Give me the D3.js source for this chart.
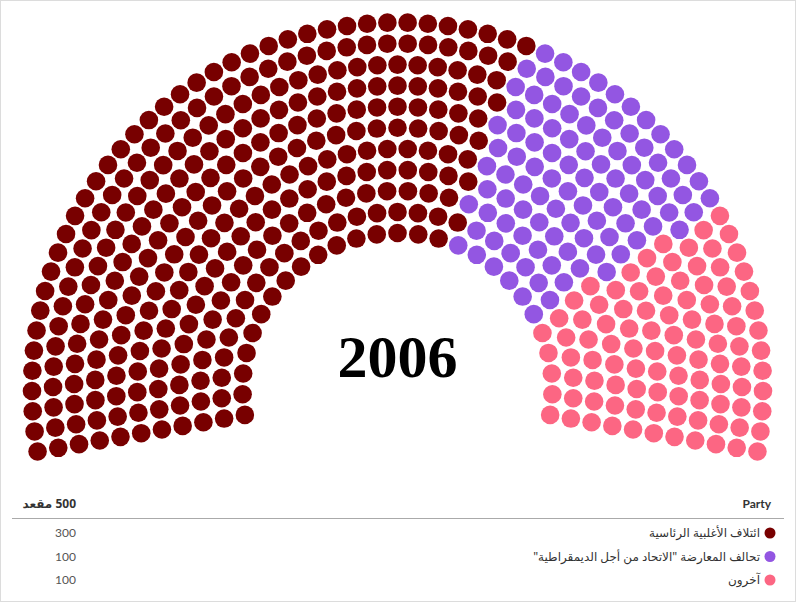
<!DOCTYPE html>
<html>
<head>
<meta charset="utf-8">
<script src="https://cdn.jsdelivr.net/npm/d3@7"></script>
<style>
  html, body { margin: 0; padding: 0; background: #ffffff; }
  svg { display: block; }
</style>
</head>
<body>
<svg id="chart" width="796" height="602"></svg>
<script>
// ---- data ----
const parties = [
  "ائتلاف الأغلبية الرئاسية",
  "تحالف المعارضة \"الاتحاد من أجل الديمقراطية\"",
  "آخرون"
];
const seatCounts = [300, 100, 100];
const partyColors = ["#780000", "#9356e2", "#fc6683"];
const centerLabel = "2006";
const headerLeft = "500 مقعد";
const headerRight = "Party";

// ---- layout ----
const W = 796, H = 602;
const cx = 397.5, cy = 388;
const nRows = 11;
const innerR = 155, outerR = 365.5;
const startAngle = 190, endAngle = -10; // degrees
const dotR = 9.3;

const svg = d3.select("#chart");

svg.append("rect")
  .attr("x", 0.5).attr("y", 0.5)
  .attr("width", W - 1).attr("height", H - 1)
  .attr("fill", "#fff").attr("stroke", "#dcdcdc").attr("stroke-width", 1);

const total = d3.sum(seatCounts);
const rowScale = d3.scaleLinear().domain([0, nRows - 1]).range([innerR, outerR]);
const radii = d3.range(nRows).map(i => rowScale(i));
const rSum = d3.sum(radii);

// seats per row proportional to radius (largest remainder)
const raw = radii.map(r => total * r / rSum);
const perRow = raw.map(Math.floor);
let rem = total - d3.sum(perRow);
d3.range(nRows).sort((a, b) => (raw[b] - perRow[b]) - (raw[a] - perRow[a]))
  .slice(0, rem).forEach(i => perRow[i] += 1);

const seatsPos = [];
radii.forEach((r, i) => {
  const n = perRow[i];
  const ang = d3.scaleLinear().domain([0, n - 1]).range([startAngle, endAngle]);
  for (let k = 0; k < n; k++) {
    const a = ang(k);
    seatsPos.push({ row: i, r: r, a: a });
  }
});
seatsPos.sort((p, q) => (q.a - p.a) || (p.row - q.row));

const cum = d3.cumsum(seatCounts);
const partyScale = d3.scaleThreshold().domain(Array.from(cum).slice(0, -1)).range(d3.range(parties.length));
const colorScale = d3.scaleOrdinal().domain(d3.range(parties.length)).range(partyColors);
seatsPos.forEach((s, idx) => { s.party = partyScale(idx); });

const toRad = Math.PI / 180;
svg.append("g").selectAll("circle")
  .data(seatsPos)
  .join("circle")
  .attr("cx", d => cx + d.r * Math.cos(d.a * toRad))
  .attr("cy", d => cy - d.r * Math.sin(d.a * toRad))
  .attr("r", dotR)
  .attr("fill", d => colorScale(d.party));

svg.append("text")
  .attr("x", cx).attr("y", 377)
  .attr("text-anchor", "middle")
  .attr("font-family", "'Liberation Serif', 'Times New Roman', serif")
  .attr("font-weight", "bold")
  .attr("font-size", 60)
  .attr("fill", "#000")
  .text(centerLabel);

// ---- legend table ----
const legend = svg.append("g");
legend.append("text")
  .attr("x", 771).attr("y", 508)
  .attr("text-anchor", "end")
  .attr("font-family", "Lato, 'Noto Sans', sans-serif")
  .attr("font-weight", "bold")
  .attr("font-size", 12)
  .attr("fill", "#333")
  .text(headerRight);
legend.append("text")
  .attr("x", 76).attr("y", 508)
  .attr("direction", "rtl")
  .attr("text-anchor", "start")
  .attr("font-family", "'Noto Sans', 'DejaVu Sans', sans-serif")
  .attr("font-weight", "bold")
  .attr("font-size", 12)
  .attr("fill", "#333")
  .text(headerLeft);
legend.append("line")
  .attr("x1", 12).attr("x2", 784)
  .attr("y1", 518.5).attr("y2", 518.5)
  .attr("stroke", "#aaa").attr("stroke-width", 1);

const rowY = d3.scalePoint().domain(d3.range(parties.length)).range([533, 580]);
const rows = legend.selectAll("g.row").data(parties).join("g").attr("class", "row");
rows.append("circle")
  .attr("cx", 770).attr("cy", (d, i) => rowY(i))
  .attr("r", 5.5)
  .attr("fill", (d, i) => colorScale(i));
rows.append("text")
  .attr("x", 760).attr("y", (d, i) => rowY(i) + 4)
  .attr("direction", "rtl")
  .attr("text-anchor", "start")
  .attr("font-family", "'Noto Sans', 'DejaVu Sans', sans-serif")
  .attr("font-size", 12)
  .attr("fill", "#333")
  .text(d => d);
rows.append("text")
  .attr("x", 76).attr("y", (d, i) => rowY(i) + 4)
  .attr("text-anchor", "end")
  .attr("font-family", "Lato, 'Noto Sans', sans-serif")
  .attr("font-size", 12)
  .attr("fill", "#555")
  .text((d, i) => seatCounts[i]);
</script>
</body>
</html>
